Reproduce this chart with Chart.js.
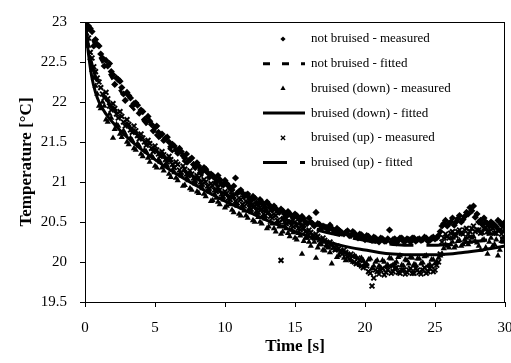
<!DOCTYPE html>
<html>
<head>
<meta charset="utf-8">
<script src="https://cdn.jsdelivr.net/npm/chart.js@4.4.1/dist/chart.umd.min.js"></script>
<style>
  html, body { margin: 0; padding: 0; background: #fff; }
  #wrap { width: 511px; height: 363px; position: relative; }
</style>
</head>
<body>
<div id="wrap"><canvas id="c"></canvas></div>
<script>
// ---- Data ----
// measured samples, first pass (whole and quarter seconds)
const timeMeasuredA = [0,0.25,0.5,0.75,1,1.25,1.5,1.75,2,2.25,2.5,2.75,3,3.25,3.5,3.75,4,4.25,4.5,4.75,5,5.25,5.5,5.75,6,6.25,6.5,6.75,7,7.25,7.5,7.75,8,8.25,8.5,8.75,9,9.25,9.5,9.75,10,10.25,10.5,10.75,11,11.25,11.5,11.75,12,12.25,12.5,12.75,13,13.25,13.5,13.75,14,14.25,14.5,14.75,15,15.25,15.5,15.75,16,16.25,16.5,16.75,17,17.25,17.5,17.75,18,18.25,18.5,18.75,19,19.25,19.5,19.75,20,20.25,20.5,20.75,21,21.25,21.5,21.75,22,22.25,22.5,22.75,23,23.25,23.5,23.75,24,24.25,24.5,24.75,25,25.25,25.5,25.75,26,26.25,26.5,26.75,27,27.25,27.5,27.75,28,28.25,28.5,28.75,29,29.25,29.5,29.75,30];

const notBruisedMeasuredA = [22.98,22.95,22.88,22.78,22.7,22.55,22.52,22.48,22.34,22.3,22.26,22.1,22.12,22.05,21.98,21.96,21.9,21.78,21.82,21.72,21.68,21.62,21.6,21.55,21.5,21.47,21.4,21.42,21.33,21.35,21.28,21.22,21.24,21.15,21.18,21.12,21.1,21.05,21.08,20.98,21.02,20.95,20.9,21.05,20.88,20.86,20.84,20.8,20.82,20.74,20.78,20.72,20.75,20.68,20.7,20.64,20.66,20.6,20.63,20.58,20.6,20.55,20.57,20.5,20.55,20.48,20.62,20.47,20.45,20.43,20.46,20.4,20.42,20.38,20.35,20.39,20.33,20.36,20.3,20.34,20.28,20.32,20.27,20.3,20.25,20.29,20.26,20.4,20.28,20.24,20.3,20.26,20.29,20.25,20.3,20.28,20.27,20.31,20.26,20.3,20.29,20.33,20.45,20.52,20.48,20.55,20.5,20.58,20.53,20.62,20.68,20.7,20.6,20.52,20.55,20.48,20.5,20.46,20.52,20.47,20.5];

const bruisedDownMeasuredA = [22.95,22.7,22.4,22.2,21.95,22.0,21.78,21.85,21.55,21.72,21.6,21.64,21.5,21.55,21.42,21.48,21.35,21.4,21.3,21.33,21.2,21.28,21.18,21.22,21.1,21.15,21.05,21.1,20.95,21.05,20.92,21.0,20.88,20.95,20.85,20.9,20.76,20.85,20.75,20.8,20.68,20.75,20.65,20.72,20.6,20.68,20.58,20.65,20.52,20.6,20.5,20.57,20.42,20.5,20.42,20.48,20.35,20.45,20.36,20.4,20.3,20.36,20.1,20.3,20.25,20.3,20.05,20.22,20.15,20.2,20.12,20.18,20.06,20.12,20.05,20.1,20.02,20.08,19.98,20.05,19.95,20.03,19.92,20.0,19.95,20.02,19.94,20.05,19.96,20.0,20.08,19.95,20.02,20.06,19.97,20.04,19.98,20.07,19.95,20.03,19.98,20.05,20.1,20.22,20.18,20.25,20.2,20.27,20.22,20.3,20.25,20.32,20.24,20.15,20.28,20.1,20.3,20.22,20.08,20.26,20.3];

const bruisedUpMeasuredA = [22.9,22.8,22.55,22.38,22.25,22.1,22.12,21.95,21.98,21.85,21.88,21.75,21.78,21.65,21.7,21.58,21.6,21.5,21.52,21.42,21.45,21.35,21.38,21.28,21.32,21.22,21.25,21.15,21.2,21.1,21.14,21.05,21.08,21.0,21.03,20.95,20.98,20.9,20.93,20.85,20.88,20.8,20.84,20.76,20.8,20.72,20.76,20.68,20.72,20.64,20.68,20.6,20.65,20.57,20.6,20.52,20.02,20.5,20.5,20.46,20.5,20.42,20.45,20.38,20.4,20.33,20.35,20.28,20.3,20.22,20.25,20.18,20.2,20.12,20.15,20.06,20.1,20.0,20.05,19.95,19.98,19.88,19.7,19.9,19.85,19.92,19.87,19.95,19.88,19.93,19.86,19.9,19.87,19.92,19.86,19.9,19.85,19.93,19.88,19.95,19.9,20.0,20.25,20.35,20.3,20.38,20.33,20.4,20.35,20.42,20.38,20.45,20.4,20.36,20.42,20.38,20.44,20.36,20.4,20.35,20.42];

// measured samples, second pass (in between the first ones)
const timeMeasuredB = [0.125,0.375,0.625,0.875,1.125,1.375,1.625,1.875,2.125,2.375,2.625,2.875,3.125,3.375,3.625,3.875,4.125,4.375,4.625,4.875,5.125,5.375,5.625,5.875,6.125,6.375,6.625,6.875,7.125,7.375,7.625,7.875,8.125,8.375,8.625,8.875,9.125,9.375,9.625,9.875,10.125,10.375,10.625,10.875,11.125,11.375,11.625,11.875,12.125,12.375,12.625,12.875,13.125,13.375,13.625,13.875,14.125,14.375,14.625,14.875,15.125,15.375,15.625,15.875,16.125,16.375,16.625,16.875,17.125,17.375,17.625,17.875,18.125,18.375,18.625,18.875,19.125,19.375,19.625,19.875,20.125,20.375,20.625,20.875,21.125,21.375,21.625,21.875,22.125,22.375,22.625,22.875,23.125,23.375,23.625,23.875,24.125,24.375,24.625,24.875,25.125,25.375,25.625,25.875,26.125,26.375,26.625,26.875,27.125,27.375,27.625,27.875,28.125,28.375,28.625,28.875,29.125,29.375,29.625,29.875];

const notBruisedMeasuredB = [22.9,22.92,22.7,22.72,22.6,22.45,22.45,22.38,22.22,22.28,22.18,22.02,22.08,21.95,21.99,21.86,21.88,21.75,21.76,21.64,21.7,21.58,21.52,21.56,21.44,21.45,21.36,21.38,21.3,21.26,21.3,21.18,21.2,21.13,21.16,21.06,21.08,21.0,21.03,20.96,20.98,20.92,20.95,20.86,20.9,20.82,20.85,20.77,20.8,20.72,20.75,20.68,20.72,20.65,20.67,20.62,20.64,20.57,20.6,20.55,20.58,20.52,20.54,20.48,20.5,20.45,20.48,20.42,20.44,20.4,20.42,20.37,20.4,20.36,20.37,20.33,20.38,20.32,20.35,20.3,20.33,20.28,20.31,20.27,20.3,20.26,20.29,20.25,20.29,20.27,20.3,20.26,20.28,20.3,20.26,20.29,20.28,20.3,20.27,20.31,20.3,20.38,20.48,20.45,20.5,20.46,20.54,20.5,20.57,20.6,20.64,20.56,20.5,20.47,20.5,20.45,20.48,20.44,20.5,20.45];

const bruisedDownMeasuredB = [22.85,22.55,22.3,22.1,21.92,21.95,21.75,21.8,21.66,21.7,21.56,21.6,21.47,21.52,21.4,21.45,21.32,21.38,21.25,21.3,21.18,21.25,21.14,21.2,21.06,21.12,21.02,21.08,20.96,21.02,20.9,20.98,20.86,20.92,20.82,20.88,20.77,20.8,20.72,20.78,20.7,20.72,20.62,20.7,20.58,20.64,20.55,20.62,20.5,20.56,20.48,20.54,20.44,20.48,20.38,20.44,20.38,20.42,20.32,20.37,20.28,20.33,20.26,20.3,20.2,20.25,20.18,20.22,20.14,20.18,19.98,20.15,20.08,20.14,20.02,20.08,20.0,20.06,19.96,20.02,19.97,20.04,19.95,20.02,19.93,20.0,19.96,20.04,19.98,20.06,19.96,20.03,19.98,20.05,19.96,20.04,19.99,20.08,19.97,20.03,20.0,20.08,20.17,20.2,20.22,20.18,20.26,20.2,20.28,20.22,20.3,20.26,20.2,20.27,20.18,20.25,20.2,20.28,20.15,20.25];

const bruisedUpMeasuredB = [22.75,22.62,22.44,22.3,22.18,22.05,22.04,21.9,21.92,21.8,21.82,21.7,21.72,21.62,21.64,21.54,21.55,21.46,21.48,21.38,21.4,21.32,21.34,21.25,21.28,21.18,21.22,21.12,21.16,21.08,21.1,21.02,21.05,20.97,21.0,20.92,20.95,20.88,20.9,20.82,20.86,20.78,20.82,20.74,20.78,20.7,20.74,20.66,20.7,20.62,20.66,20.58,20.62,20.55,20.58,20.5,20.53,20.48,20.5,20.44,20.46,20.4,20.42,20.36,20.37,20.3,20.32,20.26,20.27,20.2,20.22,20.15,20.17,20.1,20.12,20.04,20.07,19.98,20.02,19.93,19.95,19.86,19.8,19.88,19.9,19.84,19.9,19.86,19.92,19.87,19.9,19.85,19.9,19.86,19.92,19.87,19.9,19.86,19.92,19.88,19.96,20.1,20.3,20.32,20.36,20.34,20.38,20.36,20.4,20.35,20.42,20.38,20.4,20.37,20.43,20.38,20.42,20.36,20.4,20.38];

// fitted curves
const timeFitted = [0,0.25,0.5,0.75,1,1.5,2,3,4,5,6,7,8,9,10,11,12,13,14,15,16,17,18,19,20,21,22,23,24,25,26,27,28,29,30];
const notBruisedFitted = [23.0,22.9,22.8,22.69,22.58,22.43,22.28,22.02,21.8,21.6,21.42,21.27,21.13,21.01,20.9,20.8,20.71,20.63,20.56,20.5,20.44,20.39,20.35,20.32,20.3,20.28,20.27,20.27,20.27,20.28,20.29,20.31,20.33,20.35,20.38];
const bruisedDownFitted = [23.0,22.6,22.3,22.12,22.0,21.85,21.74,21.56,21.41,21.28,21.16,21.05,20.95,20.85,20.76,20.68,20.6,20.52,20.45,20.38,20.32,20.27,20.22,20.18,20.15,20.12,20.1,20.09,20.09,20.09,20.1,20.12,20.14,20.17,20.2];
const bruisedUpFitted = [23.0,22.7,22.47,22.32,22.2,22.04,21.92,21.72,21.55,21.4,21.27,21.15,21.04,20.94,20.85,20.77,20.69,20.62,20.55,20.49,20.43,20.38,20.34,20.3,20.27,20.24,20.22,20.21,20.21,20.21,20.22,20.24,20.26,20.28,20.31];

const xTicks = [0,5,10,15,20,25,30];
const yTicks = [19.5,20,20.5,21,21.5,22,22.5,23];
const seriesLabels = ['not bruised - measured','not bruised - fitted','bruised (down) - measured','bruised (down) - fitted','bruised (up) - measured','bruised (up) - fitted'];

// ---- Build datasets ----
const pts = (xs, ys) => xs.map((x, i) => ({x: x, y: ys[i]}));
const SERIF = "'Liberation Serif', 'Times New Roman', serif";

const datasets = [
  {label: seriesLabels[0], data: pts(timeMeasuredA, notBruisedMeasuredA).concat(pts(timeMeasuredB, notBruisedMeasuredB)), pointStyle: 'rectRot', pointRadius: 3.6, backgroundColor: '#000', borderColor: '#000', borderWidth: 0, showLine: false, order: 6, legendRadius: 2.6, legendBorder: 0},
  {label: seriesLabels[1], data: pts(timeFitted, notBruisedFitted), showLine: true, pointRadius: 0, borderColor: '#000', borderWidth: 3, borderDash: [7, 12], cubicInterpolationMode: 'monotone', order: 3},
  {label: seriesLabels[2], data: pts(timeMeasuredA, bruisedDownMeasuredA).concat(pts(timeMeasuredB, bruisedDownMeasuredB)), pointStyle: 'triangle', pointRadius: 3.6, backgroundColor: '#000', borderColor: '#000', borderWidth: 0, showLine: false, order: 5, legendRadius: 3, legendBorder: 0},
  {label: seriesLabels[3], data: pts(timeFitted, bruisedDownFitted), showLine: true, pointRadius: 0, borderColor: '#000', borderWidth: 3, cubicInterpolationMode: 'monotone', order: 2},
  {label: seriesLabels[4], data: pts(timeMeasuredA, bruisedUpMeasuredA).concat(pts(timeMeasuredB, bruisedUpMeasuredB)), pointStyle: 'crossRot', pointRadius: 3.4, backgroundColor: '#000', borderColor: '#000', borderWidth: 2, showLine: false, order: 4, legendRadius: 3, legendBorder: 1.3},
  {label: seriesLabels[5], data: pts(timeFitted, bruisedUpFitted), showLine: true, pointRadius: 0, borderColor: '#000', borderWidth: 3, borderDash: [24, 13], cubicInterpolationMode: 'monotone', order: 1}
];

// frame around plot area
const framePlugin = {
  id: 'frame',
  afterDatasetsDraw(chart) {
    const {ctx, chartArea: a} = chart;
    ctx.save();
    ctx.strokeStyle = '#000';
    ctx.lineWidth = 1;
    ctx.strokeRect(Math.round(a.left) + 0.5, Math.round(a.top) + 0.5, Math.round(a.right - a.left) - 1, Math.round(a.bottom - a.top));
    ctx.restore();
  }
};

// legend inside plot area, top right
const legendPlugin = {
  id: 'insideLegend',
  afterDraw(chart) {
    const {ctx, chartArea: a} = chart;
    ctx.save();
    ctx.font = '13px ' + SERIF;
    ctx.textBaseline = 'middle';
    const x0 = a.left + 178, x1 = a.left + 220, mx = a.left + 198, tx = a.left + 226;
    chart.data.datasets.forEach((ds, i) => {
      const y = a.top + 17 + i * 24.7;
      if (ds.showLine) {
        ctx.strokeStyle = '#000';
        ctx.lineWidth = ds.borderWidth;
        ctx.setLineDash(ds.borderDash || []);
        ctx.beginPath(); ctx.moveTo(x0, y); ctx.lineTo(x1, y); ctx.stroke();
        ctx.setLineDash([]);
      } else {
        ctx.fillStyle = '#000'; ctx.strokeStyle = '#000';
        ctx.lineWidth = ds.legendBorder || 1;
        Chart.helpers.drawPoint(ctx, {pointStyle: ds.pointStyle, radius: ds.legendRadius, borderWidth: ds.legendBorder, rotation: 0}, mx, y);
      }
      ctx.fillStyle = '#000';
      ctx.fillText(ds.label, tx, y);
    });
    ctx.restore();
  }
};

new Chart(document.getElementById('c'), {
  type: 'scatter',
  data: {datasets},
  options: {
    responsive: true,
    maintainAspectRatio: false,
    animation: false,
    layout: {padding: {top: 19, right: 3, left: 0, bottom: 0}},
    plugins: {legend: {display: false}, tooltip: {enabled: false}},
    scales: {
      x: {
        type: 'linear', min: 0, max: 30,
        afterBuildTicks: (s) => { s.ticks = xTicks.map(v => ({value: v})); },
        afterFit: (s) => { s.height = 61; s.paddingRight = 0; s.paddingLeft = 0; },
        grid: {display: true, drawOnChartArea: false, drawTicks: true, tickLength: 5, color: '#000'},
        border: {display: true, color: '#000', width: 1},
        ticks: {color: '#000', font: {family: SERIF, size: 15}, padding: 12, maxRotation: 0, autoSkip: false},
        title: {display: true, text: 'Time [s]', color: '#000', font: {family: SERIF, size: 17, weight: 'bold'}, padding: {top: 0, bottom: 6}}
      },
      y: {
        type: 'linear', min: 19.5, max: 23,
        afterBuildTicks: (s) => { s.ticks = yTicks.map(v => ({value: v})); },
        afterFit: (s) => { s.width = 85; },
        grid: {display: true, drawOnChartArea: false, drawTicks: true, tickLength: 5, color: '#000'},
        border: {display: true, color: '#000', width: 1},
        ticks: {color: '#000', font: {family: SERIF, size: 15}, padding: 13, callback: (v) => String(+(+v).toFixed(1)), autoSkip: false},
        title: {display: true, text: 'Temperature [°C]', color: '#000', font: {family: SERIF, size: 17, weight: 'bold'}, padding: {top: 16, bottom: 0}}
      }
    }
  },
  plugins: [framePlugin, legendPlugin]
});
</script>
</body>
</html>
